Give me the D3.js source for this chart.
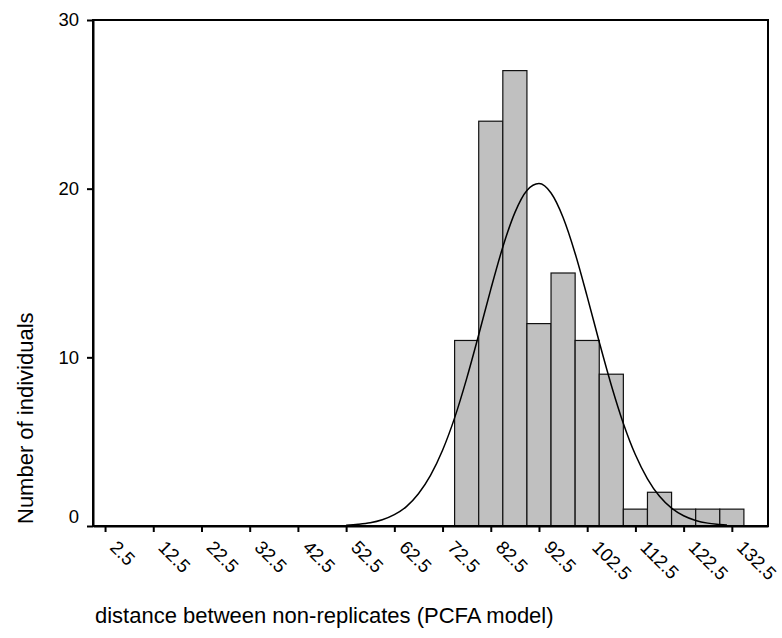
<!DOCTYPE html>
<html>
<head>
<meta charset="utf-8">
<script src="https://cdn.jsdelivr.net/npm/d3@7"></script>
<style>
body{margin:0;background:#fff;}
svg{display:block;font-family:"Liberation Sans",Arial,sans-serif;}
.axis path,.axis line{stroke:#000;stroke-width:2px;}
.axis text{font-size:18.5px;fill:#000;font-family:"Liberation Sans",Arial,sans-serif;}
.frame{fill:none;stroke:#000;stroke-width:2px;}
.bar{fill:#c0c0c0;stroke:#111;stroke-width:1.2px;}
.fit{fill:none;stroke:#000;stroke-width:1.5px;}
.title{font-size:22px;fill:#000;}
</style>
</head>
<body>
<svg id="chart" width="782" height="638"></svg>
<script>

/// Histogram bins (lower edge of each 5-unit bin) and counts
var binStart = [75, 80, 85, 90, 95, 100, 105, 110, 115, 120, 125, 130];
var binCount = [11, 24, 27, 12, 15, 11, 9, 1, 2, 1, 1, 1];
var binWidth = 5;

/// Fitted normal curve
var curveX = [52.5, 55, 57.5, 60, 62.5, 65, 67.5, 70, 72.5, 75, 77.5, 80, 82.5, 85, 87.5, 90,
              92.5, 95, 97.5, 100, 102.5, 105, 107.5, 110, 112.5, 115, 117.5, 120, 122.5,
              125, 127.5, 130, 131.5];
var curveY = [0.05, 0.1, 0.19, 0.37, 0.67, 1.15, 1.91, 3.0, 4.49, 6.41, 8.74, 11.34, 14.03, 16.54, 18.58, 19.89,
              20.3, 19.74, 18.29, 16.16, 13.6, 10.91, 8.35, 6.08, 4.22, 2.8, 1.76, 1.06, 0.61,
              0.33, 0.17, 0.09, 0.05];

/// Axis ticks
var xTicks = [2.5, 12.5, 22.5, 32.5, 42.5, 52.5, 62.5, 72.5, 82.5, 92.5, 102.5, 112.5, 122.5, 132.5];
var yTicks = [0, 10, 20, 30];

var xTitle = "distance between non-replicates (PCFA model)";
var yTitle = "Number of individuals";

var svg = d3.select("#chart");

var margin = {top: 20, right: 14, bottom: 112, left: 93};
var width = +svg.attr("width") - margin.left - margin.right;
var height = +svg.attr("height") - margin.top - margin.bottom;

var g = svg.append("g").attr("transform", "translate(" + margin.left + "," + margin.top + ")");

var x = d3.scaleLinear().domain([0, 140]).range([0, width]);
var y = d3.scaleLinear().domain([0, 30]).range([height, 0]);

var data = binStart.map(function(d, i){ return {x0: d, x1: d + binWidth, n: binCount[i]}; });
var fit = curveX.map(function(d, i){ return {x: d, y: curveY[i]}; });

/// Bars
g.append("g").selectAll("rect")
    .data(data)
  .enter().append("rect")
    .attr("class", "bar")
    .attr("x", function(d){ return x(d.x0); })
    .attr("width", function(d){ return x(d.x1) - x(d.x0); })
    .attr("y", function(d){ return y(d.n); })
    .attr("height", function(d){ return y(0) - y(d.n); });

/// Normal curve
var line = d3.line()
    .x(function(d){ return x(d.x); })
    .y(function(d){ return y(d.y); })
    .curve(d3.curveMonotoneX);

g.append("path")
    .datum(fit)
    .attr("class", "fit")
    .attr("d", line);

/// Frame
g.append("rect")
    .attr("class", "frame")
    .attr("width", width)
    .attr("height", height);

/// Axes
var xAxis = d3.axisBottom(x).tickValues(xTicks).tickSizeInner(6).tickSizeOuter(0)
    .tickFormat(d3.format(".1f"));
var yAxis = d3.axisLeft(y).tickValues(yTicks).tickSizeInner(6).tickSizeOuter(0).tickPadding(8);

g.append("g")
    .attr("class", "axis axis--x")
    .attr("transform", "translate(0," + height + ")")
    .call(xAxis)
  .selectAll("text")
    .attr("x", 0)
    .attr("y", 0)
    .attr("dy", "0.35em")
    .attr("text-anchor", "start")
    .attr("transform", "translate(8,18) rotate(45)");

g.append("g")
    .attr("class", "axis axis--y")
    .call(yAxis)
  .selectAll("text")
    .filter(function(d){ return d === 0; })
    .attr("dy", "-0.17em"); /// zero label sits above the axis

/// Titles
svg.append("text")
    .attr("class", "title")
    .attr("x", 95)
    .attr("y", 623)
    .text(xTitle);

svg.append("text")
    .attr("class", "title")
    .attr("transform", "translate(32.5,524) rotate(-90)")
    .text(yTitle);

</script>
</body>
</html>
